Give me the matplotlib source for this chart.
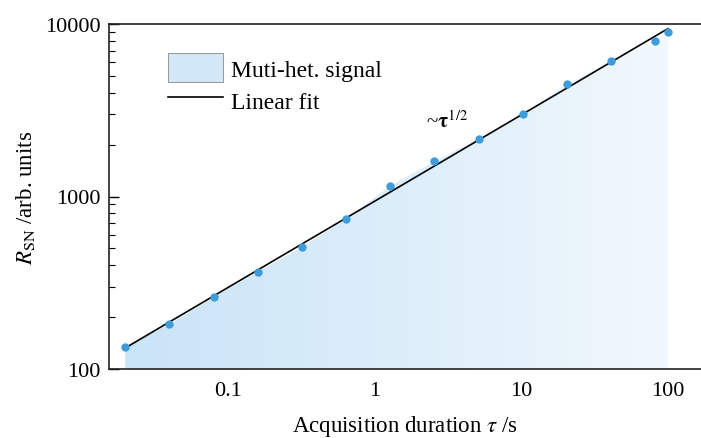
import numpy as np
import matplotlib
matplotlib.use('Agg')
import matplotlib.pyplot as plt
from matplotlib.patches import Polygon, Patch
from matplotlib.lines import Line2D
from matplotlib.colors import LinearSegmentedColormap

plt.rcParams['font.family'] = ['Liberation Serif', 'DejaVu Serif']
plt.rcParams['mathtext.fontset'] = 'stix'

# acquisition duration (s) and signal-to-noise ratio
tau = [0.02, 0.04, 0.08, 0.16, 0.32, 0.64, 1.28, 2.56, 5.12, 10.24, 20.48, 40.96, 81.92, 100]
rsn = [134, 182, 261, 365, 509, 741, 1150, 1600, 2150, 3000, 4490, 6100, 7960, 9000]

xticks = [0.1, 1, 10, 100]
xticklabels = ['0.1', '1', '10', '100']
yticks = [100, 1000, 10000]
yticklabels = ['100', '1000', '10000']

fig = plt.figure(figsize=(7.01, 4.39), dpi=100)
ax = fig.add_axes([109 / 701, 69 / 439, 592 / 701, 345 / 439])
ax.set_xscale('log')
ax.set_yscale('log')
ax.set_xlim(0.0155, 168)
ax.set_ylim(100, 10000)

# gradient fill under the data
cmap = LinearSegmentedColormap.from_list('bl', ['#c8e3f7', '#ddeefa', '#f4f9fd'])
grad = np.linspace(0, 1, 256).reshape(1, -1)
img = ax.imshow(grad, cmap=cmap, extent=[0, 1, 0, 1], transform=ax.transAxes,
                aspect='auto', zorder=1)
verts = list(zip(tau, rsn)) + [(tau[-1], 100), (tau[0], 100)]
poly = Polygon(verts, closed=True, facecolor='none', edgecolor='none', transform=ax.transData)
ax.add_patch(poly)
img.set_clip_path(poly)

# linear fit in log-log space
k, b = np.polyfit(np.log10(tau), np.log10(rsn), 1)
xf = np.array([tau[0], tau[-1]])
ax.plot(xf, 10 ** (k * np.log10(xf) + b), color='black', lw=1.2, zorder=3)

ax.plot(tau, rsn, 'o', color='#3f9cda', ms=6, mec='none', zorder=4)

ax.text(3.1, 2750, r'~$\mathbf{\tau}^{1/2}$', fontsize=15, ha='center', va='center')

ax.set_xticks(xticks)
ax.set_xticklabels(xticklabels)
ax.set_yticks(yticks)
ax.set_yticklabels(yticklabels)
ax.xaxis.set_minor_locator(matplotlib.ticker.NullLocator())
ax.tick_params(axis='x', length=0, labelsize=16, pad=9)
ax.tick_params(axis='y', which='major', direction='in', length=7, width=1, labelsize=16, pad=6)
ax.tick_params(axis='y', which='minor', direction='in', length=4, width=0.8)
ax.yaxis.set_minor_formatter(matplotlib.ticker.NullFormatter())

ax.spines['right'].set_visible(False)
for s in ['left', 'bottom', 'top']:
    ax.spines[s].set_linewidth(1.2)
    ax.spines[s].set_color('#222222')

ax.set_xlabel(r'Acquisition duration $\tau$ /s', fontsize=16.5, labelpad=9)
ax.set_ylabel(r'$R_{\rm SN}$ /arb. units', fontsize=16.5, labelpad=6)

handles = [Patch(facecolor='#d2e8f8', edgecolor='#888888', lw=0.6),
           Line2D([0], [0], color='black', lw=1.2)]
ax.legend(handles, ['Muti-het. signal', 'Linear fit'], loc='upper left',
          bbox_to_anchor=(0.1, 0.915), frameon=False, fontsize=17, borderpad=0,
          borderaxespad=0, handlelength=2.3, handleheight=1.5, handletextpad=0.35,
          labelspacing=0.15)

fig.savefig('out.png', dpi=100)
